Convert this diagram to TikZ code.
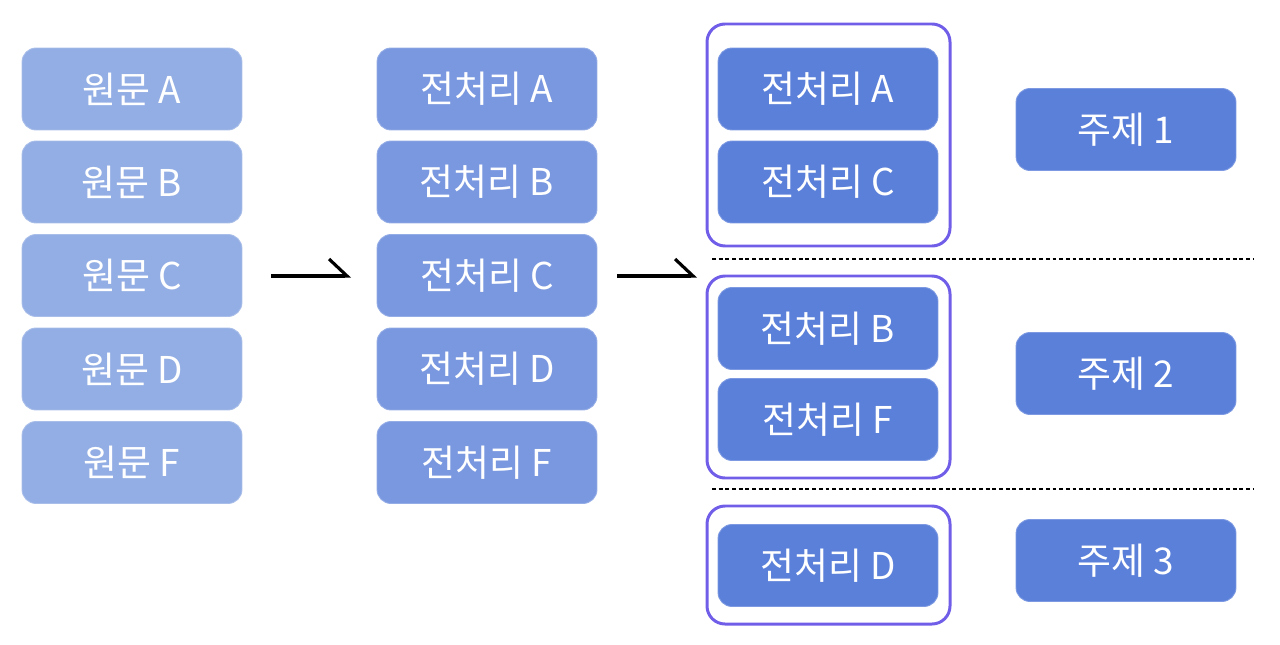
\documentclass[tikz,border=0pt]{standalone}
\usepackage{fontspec}
\setmainfont{Noto Sans CJK KR}
\usetikzlibrary{arrows.meta}

\definecolor{srcblue}{RGB}{147,174,228}
\definecolor{preblue}{RGB}{122,152,224}
\definecolor{grpblue}{RGB}{91,128,218}
\definecolor{grppurple}{RGB}{112,94,232}

\begin{document}
\begin{tikzpicture}[x=0.02cm, y=-0.02cm,
		box/.style={rounded corners=0.28cm, minimum width=4.4cm, minimum height=1.64cm,
			text=white, font=\fontsize{21}{24}\selectfont, draw=#1!80!white, line width=0.5pt, fill=#1},
		group/.style={draw=grppurple, line width=1.7pt, rounded corners=0.36cm},
		split/.style={dash pattern=on 2.2pt off 1.6pt, line width=0.8pt},
		step arrow/.style={line width=1.8pt, -{Straight Barb[left, length=0.36cm, width=0.68cm, line width=1.8pt]}}]
			\useasboundingbox (0, 0) rectangle (1280, 645);
			
			% originals
			\node[box=srcblue] (srcA) at (132, 89) {원문 A};
			\node[box=srcblue] (srcB) at (132, 182) {원문 B};
			\node[box=srcblue] (srcC) at (132, 275.5) {원문 C};
			\node[box=srcblue] (srcD) at (132, 369) {원문 D};
			\node[box=srcblue] (srcF) at (132, 462.5) {원문 F};
			
			% preprocessed
			\node[box=preblue] (preA) at (487, 89) {전처리 A};
			\node[box=preblue] (preB) at (487, 182) {전처리 B};
			\node[box=preblue] (preC) at (487, 275.5) {전처리 C};
			\node[box=preblue] (preD) at (487, 369) {전처리 D};
			\node[box=preblue] (preF) at (487, 462.5) {전처리 F};
			
			\coordinate (arr1s) at (271, 276);
			\coordinate (arr1e) at (351, 276);
			\coordinate (arr2s) at (617, 276);
			\coordinate (arr2e) at (697, 276);
			\draw[step arrow] (arr1s) -- (arr1e);
			\draw[step arrow] (arr2s) -- (arr2e);
			
			% grouped
			\draw[group] (707, 24) rectangle (950, 246);
			\draw[group] (707, 276) rectangle (950, 478);
			\draw[group] (707, 506) rectangle (950, 624);
			
			\node[box=grpblue] (grpA) at (828, 89) {전처리 A};
			\node[box=grpblue] (grpC) at (828, 182) {전처리 C};
			\node[box=grpblue] (grpB) at (828, 328.5) {전처리 B};
			\node[box=grpblue] (grpF) at (828, 419.5) {전처리 F};
			\node[box=grpblue] (grpD) at (828, 565.5) {전처리 D};
			
			\node[box=grpblue] (topic1) at (1126, 129.5) {주제 1};
			\node[box=grpblue] (topic2) at (1126, 373.5) {주제 2};
			\node[box=grpblue] (topic3) at (1126, 560.5) {주제 3};
			
			\draw[split] (712, 259) -- (1254, 259);
			\draw[split] (712, 489) -- (1254, 489);
			
		\end{tikzpicture}
\end{document}
